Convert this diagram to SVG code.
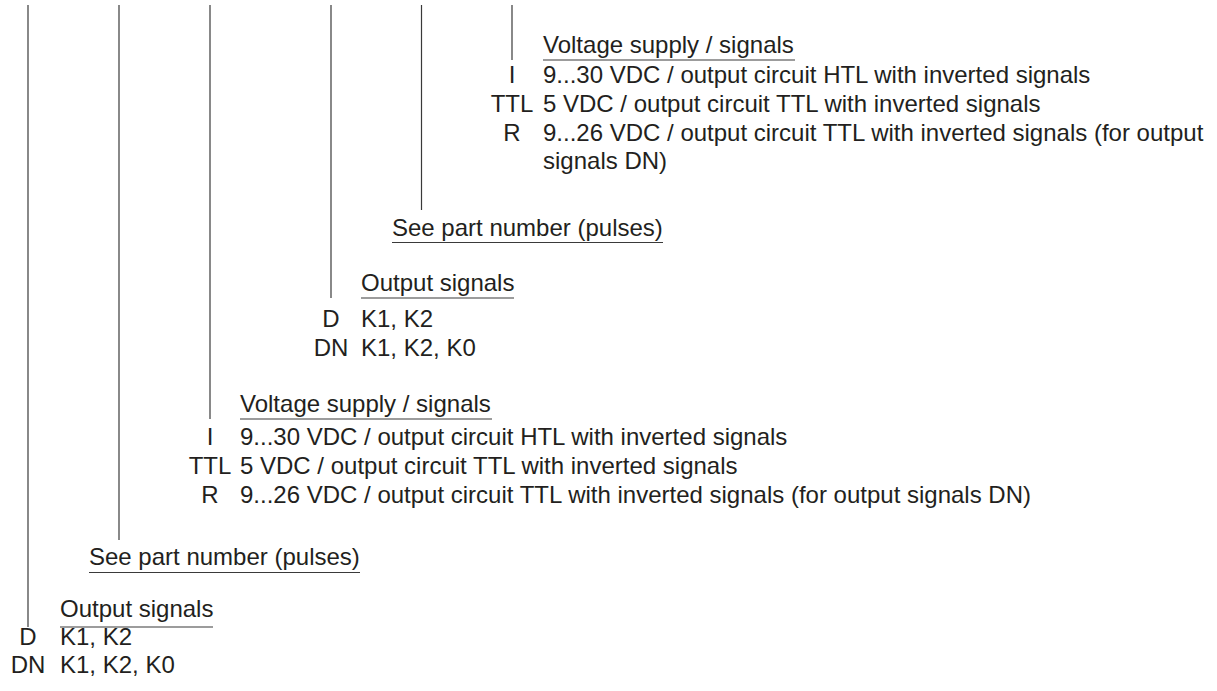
<svg xmlns="http://www.w3.org/2000/svg" width="1217" height="691" viewBox="0 0 1217 691">
<style>
text{font-family:"Liberation Sans",Arial,Helvetica,sans-serif;font-size:24px;fill:#231f20}
.c{text-anchor:middle}
.ln{stroke:#3a3a3a;stroke-width:1.2;fill:none}
</style>
<rect width="1217" height="691" fill="#fff"/>
<g id="connectors">
<line class="ln" x1="28" y1="5" x2="28" y2="627"/>
<line class="ln" x1="119" y1="5" x2="119" y2="540"/>
<line class="ln" x1="210" y1="5" x2="210" y2="419"/>
<line class="ln" x1="331" y1="5" x2="331" y2="298"/>
<line class="ln" x1="421.5" y1="5" x2="421.5" y2="210"/>
<line class="ln" x1="512" y1="5" x2="512" y2="60"/>
</g>
<g id="node6">
<text x="543" y="53">Voltage supply / signals</text>
<line class="ln" x1="543" y1="60" x2="795" y2="60"/>
<text class="c" x="512" y="83">I</text><text x="543" y="83">9...30 VDC / output circuit HTL with inverted signals</text>
<text class="c" x="512" y="112">TTL</text><text x="543" y="112">5 VDC / output circuit TTL with inverted signals</text>
<text class="c" x="512" y="141">R</text><text x="543" y="141">9...26 VDC / output circuit TTL with inverted signals (for output</text>
<text x="543" y="169">signals DN)</text>
</g>
<g id="node5">
<text x="392" y="236">See part number (pulses)</text>
<line class="ln" x1="392" y1="242.5" x2="663" y2="242.5"/>
</g>
<g id="node3">
<text x="361" y="291">Output signals</text>
<line class="ln" x1="361" y1="298" x2="514" y2="298"/>
<text class="c" x="331" y="327">D</text><text x="361" y="327">K1, K2</text>
<text class="c" x="331" y="356">DN</text><text x="361" y="356">K1, K2, K0</text>
</g>
<g id="node4">
<text x="240" y="412">Voltage supply / signals</text>
<line class="ln" x1="240" y1="419" x2="492" y2="419"/>
<text class="c" x="210" y="445">I</text><text x="240" y="445">9...30 VDC / output circuit HTL with inverted signals</text>
<text class="c" x="210" y="474">TTL</text><text x="240" y="474">5 VDC / output circuit TTL with inverted signals</text>
<text class="c" x="210" y="503">R</text><text x="240" y="503">9...26 VDC / output circuit TTL with inverted signals (for output signals DN)</text>
</g>
<g id="node2">
<text x="89" y="565">See part number (pulses)</text>
<line class="ln" x1="89" y1="572.5" x2="360" y2="572.5"/>
</g>
<g id="node1">
<text x="60" y="617">Output signals</text>
<line class="ln" x1="60" y1="627" x2="213" y2="627"/>
<text class="c" x="28" y="645">D</text><text x="60" y="645">K1, K2</text>
<text class="c" x="28" y="673">DN</text><text x="60" y="673">K1, K2, K0</text>
</g>
</svg>
